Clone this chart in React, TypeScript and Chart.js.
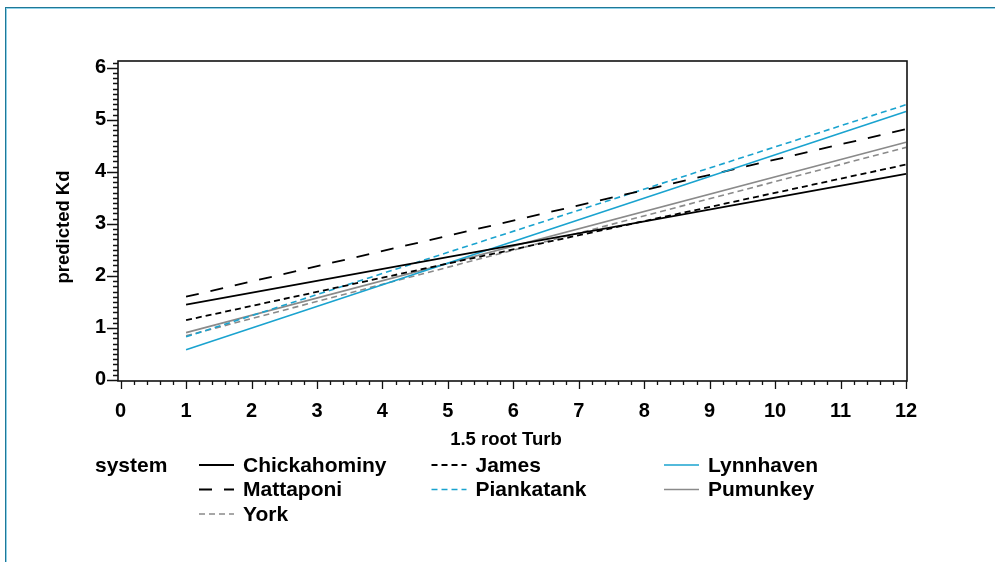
import React, { useEffect, useRef } from "react";
import { Chart, registerables } from "chart.js";

Chart.register(...registerables);

// Predicted Kd against 1.5-root turbidity, one fitted line per river system.
const turbEnds = [1, 12];
const systemNames = [
  "Chickahominy",
  "James",
  "Lynnhaven",
  "Mattaponi",
  "Piankatank",
  "Pumunkey",
  "York",
];
const chickahominyKd = [1.45, 3.96];
const jamesKd = [1.15, 4.14];
const lynnhavenKd = [0.58, 5.16];
const mattaponiKd = [1.6, 4.82];
const piankatankKd = [0.83, 5.29];
const pumunkeyKd = [0.91, 4.57];
const yorkKd = [0.85, 4.47];

const xTickValues = [0, 1, 2, 3, 4, 5, 6, 7, 8, 9, 10, 11, 12];
const yTickValues = [0, 1, 2, 3, 4, 5, 6];

const TEAL = "#1aa3cf";
const GRAY = "#8a8a8a";
const BLACK = "#000000";
const FONT = "'Liberation Sans', Arial, Helvetica, sans-serif";

const seriesValues = [
  chickahominyKd,
  jamesKd,
  lynnhavenKd,
  mattaponiKd,
  piankatankKd,
  pumunkeyKd,
  yorkKd,
];
const seriesColors = [BLACK, BLACK, TEAL, BLACK, TEAL, GRAY, GRAY];
const seriesDashes: number[][] = [[], [6, 4], [], [13, 12], [6, 4], [], [6, 4]];
const seriesWidths = [1.8, 1.8, 1.6, 1.8, 1.6, 1.6, 1.6];

// Frame, minor/major tick marks, axis titles and the grouped legend.
const decorations = {
  id: "decorations",
  afterDraw(chart: any) {
    const ctx = chart.ctx as CanvasRenderingContext2D;
    const area = chart.chartArea;
    const xs = chart.scales.x;
    const ys = chart.scales.y;
    ctx.save();

    // plot frame
    ctx.strokeStyle = "#111";
    ctx.lineWidth = 1.6;
    ctx.strokeRect(area.left, area.top, area.right - area.left, area.bottom - area.top);

    // y ticks: major every 1, minor every 0.1
    ctx.lineWidth = 1.3;
    ctx.beginPath();
    for (let i = 0; i <= 61; i++) {
      const v = i / 10;
      const py = Math.round(ys.getPixelForValue(v)) + 0.5;
      const len = i % 10 === 0 ? 11 : 5;
      ctx.moveTo(area.left, py);
      ctx.lineTo(area.left - len, py);
    }
    // x ticks: major every 1, minor every 0.2
    for (let i = 0; i <= 60; i++) {
      const v = i / 5;
      const px = Math.round(xs.getPixelForValue(v)) + 0.5;
      const len = i % 5 === 0 ? 8 : 4;
      ctx.moveTo(px, area.bottom);
      ctx.lineTo(px, area.bottom + len);
    }
    ctx.stroke();

    // axis titles
    ctx.fillStyle = "#000";
    ctx.font = `bold 18.5px ${FONT}`;
    ctx.textAlign = "center";
    ctx.textBaseline = "alphabetic";
    ctx.fillText("1.5 root Turb", 506, 445);

    ctx.save();
    ctx.translate(69, 227);
    ctx.rotate(-Math.PI / 2);
    ctx.textBaseline = "alphabetic";
    ctx.fillText("predicted Kd", 0, 0);
    ctx.restore();

    // legend
    ctx.font = `bold 21px ${FONT}`;
    ctx.textAlign = "left";
    ctx.textBaseline = "alphabetic";
    ctx.fillText("system", 95, 472);

    chart.data.datasets.forEach((ds: any, i: number) => {
      const row = Math.floor(i / 3);
      const col = i % 3;
      const lx = 199 + col * 232.5;
      const base = 471.5 + row * 24.5;
      const ly = base - 6.5;
      ctx.save();
      ctx.strokeStyle = ds.borderColor;
      ctx.lineWidth = ds.borderWidth;
      ctx.setLineDash(ds.borderDash || []);
      ctx.beginPath();
      ctx.moveTo(lx, ly);
      ctx.lineTo(lx + 35, ly);
      ctx.stroke();
      ctx.restore();
      ctx.fillStyle = "#000";
      ctx.fillText(ds.label, lx + 44, base);
    });

    ctx.restore();
  },
};

export default function App() {
  const canvasRef = useRef<HTMLCanvasElement | null>(null);

  useEffect(() => {
    const canvas = canvasRef.current;
    if (!canvas) return;

    const datasets = systemNames.map((name, i) => ({
      label: name,
      data: turbEnds.map((x, j) => ({ x, y: seriesValues[i][j] })),
      borderColor: seriesColors[i],
      borderDash: seriesDashes[i],
      borderWidth: seriesWidths[i],
      pointRadius: 0,
      fill: false,
      tension: 0,
    }));

    const chart = new Chart(canvas, {
      type: "line",
      data: { datasets },
      options: {
        animation: false,
        responsive: false,
        events: [],
        layout: { padding: { top: 61, right: 88, left: 0, bottom: 0 } },
        plugins: {
          legend: { display: false },
          tooltip: { enabled: false },
          title: { display: false },
        },
        scales: {
          x: {
            type: "linear",
            min: -0.04,
            max: 12.015,
            afterBuildTicks: (s: any) => {
              s.ticks = xTickValues.map((v) => ({ value: v }));
            },
            afterFit: (s: any) => {
              s.height = 181;
            },
            grid: { display: false, drawTicks: false },
            border: { display: false },
            ticks: {
              autoSkip: false,
              maxRotation: 0,
              padding: 18,
              color: "#000",
              font: { family: FONT, size: 20, weight: "bold" },
              callback: (v: any) => String(v),
            },
          },
          y: {
            type: "linear",
            min: -0.02,
            max: 6.13,
            afterBuildTicks: (s: any) => {
              s.ticks = yTickValues.map((v) => ({ value: v }));
            },
            afterFit: (s: any) => {
              s.width = 118;
            },
            grid: { display: false, drawTicks: false },
            border: { display: false },
            ticks: {
              autoSkip: false,
              padding: 12,
              color: "#000",
              font: { family: FONT, size: 20, weight: "bold" },
              callback: (v: any) => String(v),
            },
          },
        },
      },
      plugins: [decorations],
    });

    return () => chart.destroy();
  }, []);

  return (
    <div
      style={{
        position: "fixed",
        left: 0,
        top: 0,
        width: 995,
        height: 562,
        overflow: "hidden",
        background: "#ffffff",
      }}
    >
      <div
        style={{
          position: "absolute",
          left: 5,
          top: 7,
          width: 1200,
          height: 800,
          border: "1px solid #1f7897",
          boxShadow: "inset 1px 1px 0 0 #8fd2ea",
        }}
      />
      <canvas
        ref={canvasRef}
        width={995}
        height={562}
        style={{ position: "absolute", left: 0, top: 0, width: 995, height: 562 }}
      />
    </div>
  );
}
